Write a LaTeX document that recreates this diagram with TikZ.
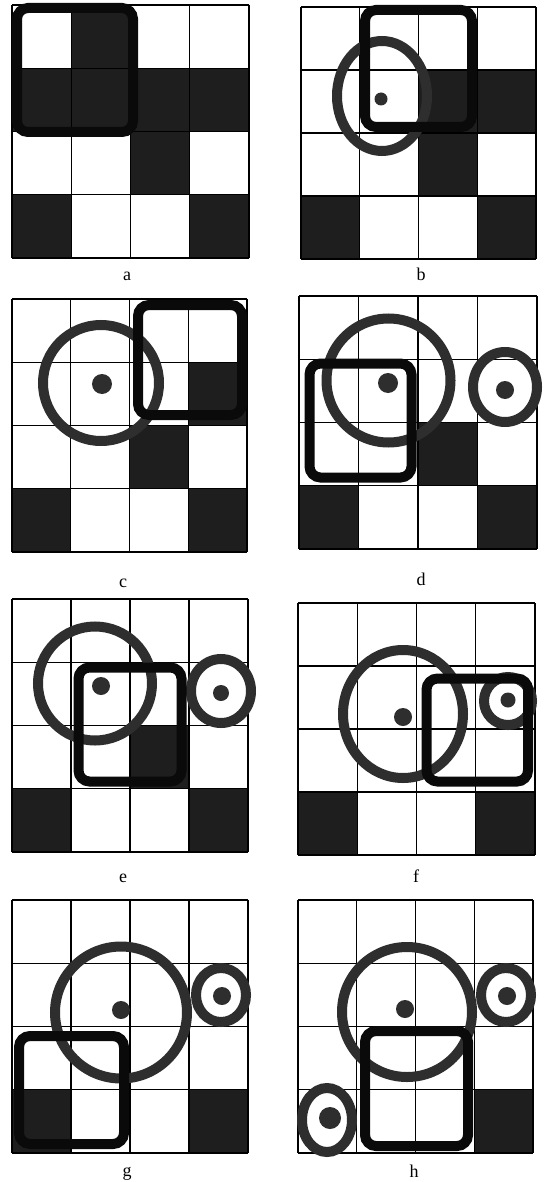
\documentclass[tikz,border=0pt]{standalone}
\usepackage{fontspec}
\setmainfont{Liberation Serif}
\definecolor{ringc}{HTML}{2E2E2E}
\definecolor{sqc}{HTML}{0A0A0A}
\definecolor{cellc}{HTML}{1E1E1E}
\tikzset{
  cellfill/.style={fill=cellc},
  gridline/.style={draw=black,line width=1.3pt},
  ring/.style={draw=ringc,line width=10pt},
  dotfill/.style={fill=ringc},
  sq/.style={draw=sqc,line width=10pt,rounded corners=11pt},
  lbl/.style={anchor=base,font=\fontsize{18}{18}\selectfont,inner sep=0pt}
}
\newcommand{\gpanel}[5]{%
  \pgfmathsetmacro\pcw{(#3-#1)/4}%
  \pgfmathsetmacro\pch{(#4-#2)/4}%
  \foreach \c/\r in {#5} {\fill[cellfill] ({#1+\c*\pcw},{#2+\r*\pch}) rectangle ++(\pcw,\pch);}%
  \foreach \i in {0,...,4} {%
    \draw[gridline] ({#1+\i*\pcw},#2) -- ({#1+\i*\pcw},#4);%
    \draw[gridline] (#1,{#2+\i*\pch}) -- (#3,{#2+\i*\pch});%
  }%
}
\begin{document}
\begin{tikzpicture}[x=1pt,y=-1pt]
\useasboundingbox[fill=white] (0,0) rectangle (549,1182);
% ---------- a ----------
\gpanel{12}{5}{249}{258}{1/0,0/1,1/1,2/1,3/1,2/2,0/3,3/3}
\draw[sq] (17,8) rectangle (133,132);
\node[lbl] (la) at (127,280) {a};
% ---------- b ----------
\gpanel{301}{7}{536}{259}{2/1,3/1,2/2,0/3,3/3}
\draw[ring] (382,96) ellipse [x radius=45pt,y radius=55pt];
\fill[dotfill] (381,99) circle [radius=6.5pt];
\draw[sq] (365,10) rectangle (472,127);
\node[lbl] (lb) at (421,280) {b};
% ---------- c ----------
\gpanel{12}{299}{247}{552}{3/1,2/2,0/3,3/3}
\draw[ring] (101,383) circle [radius=58pt];
\fill[dotfill] (102,384) circle [radius=10pt];
\draw[sq] (138,305) rectangle (242,415);
\node[lbl] (lc) at (123,587) {c};
% ---------- d ----------
\gpanel{299}{296}{537}{549}{2/2,0/3,3/3}
\draw[ring] (388.5,380.5) circle [radius=62pt];
\fill[dotfill] (388,383) circle [radius=10pt];
\draw[ring] (505,387) ellipse [x radius=32pt,y radius=35pt];
\fill[dotfill] (505,390) circle [radius=9pt];
\draw[sq] (309.5,363.5) rectangle (411.5,477.5);
\node[lbl] (ld) at (421,585) {d};
% ---------- e ----------
\gpanel{12}{599}{248}{852}{2/2,0/3,3/3}
\draw[ring] (95,683.5) circle [radius=57pt];
\fill[dotfill] (101,686) circle [radius=9pt];
\draw[ring] (221,691) ellipse [x radius=30pt,y radius=32pt];
\fill[dotfill] (221,693) circle [radius=8pt];
\draw[sq] (78.5,667.5) rectangle (181.5,781.5);
\node[lbl] (le) at (123,882) {e};
% ---------- f ----------
\gpanel{298}{603}{535}{855}{0/3,3/3}
\draw[ring] (403,714) ellipse [x radius=60pt,y radius=64pt];
\fill[dotfill] (403,717) circle [radius=9pt];
\draw[ring] (508,701) circle [radius=24pt];
\fill[dotfill] (508,700) circle [radius=7.5pt];
\draw[sq] (426.5,678.5) rectangle (528,781.5);
\node[lbl] (lf) at (416,882) {f};
% ---------- g ----------
\gpanel{12}{900}{248}{1153}{0/3,3/3}
\draw[ring] (121,1012.5) circle [radius=66pt];
\fill[dotfill] (121,1010) circle [radius=9pt];
\draw[ring] (221,995) ellipse [x radius=25pt,y radius=27pt];
\fill[dotfill] (222,996) circle [radius=9pt];
\draw[sq] (19,1036) rectangle (124,1144);
\node[lbl] (lg) at (127,1176) {g};
% ---------- h ----------
\gpanel{298}{900}{533}{1153}{3/3}
\draw[ring] (407,1012) circle [radius=65pt];
\fill[dotfill] (405,1009) circle [radius=9pt];
\draw[ring] (506,995) ellipse [x radius=25pt,y radius=27pt];
\fill[dotfill] (507,996) circle [radius=9pt];
\draw[ring] (327,1120) ellipse [x radius=25pt,y radius=32pt];
\fill[dotfill] (330,1118) circle [radius=11pt];
\draw[sq] (365,1031) rectangle (468,1146);
\node[lbl] (lh) at (414,1177) {h};
\end{tikzpicture}
\end{document}
